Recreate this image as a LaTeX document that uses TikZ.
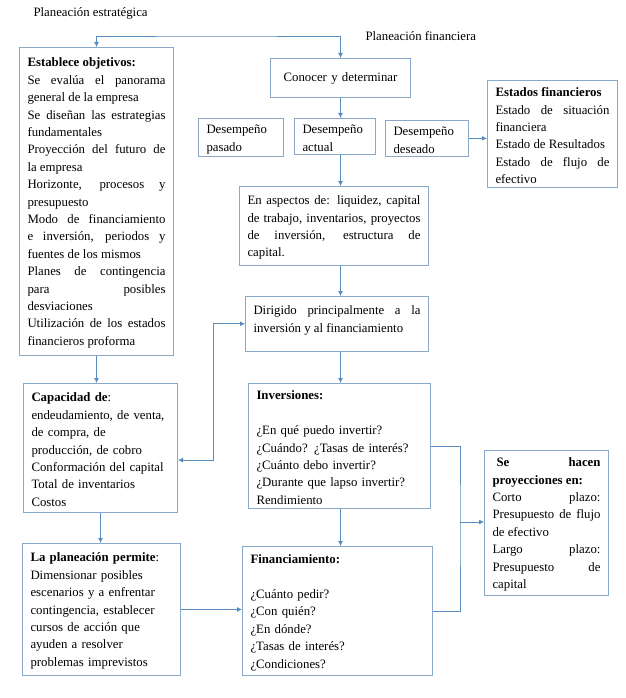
\documentclass[tikz,border=0pt]{standalone}
\usepackage{fontspec}
\setmainfont{Liberation Serif}
\usepackage{xcolor}
\usepackage{tikz}
\usetikzlibrary{arrows.meta,positioning}
\definecolor{bordecaja}{RGB}{138,168,200}
\definecolor{flechaazul}{RGB}{88,140,188}
\setlength{\parindent}{0pt}
\hyphenpenalty=10000

\begin{document}
\begin{tikzpicture}[x=1pt,y=-1pt,
    caja/.style={draw=bordecaja, line width=1pt, anchor=north west, inner xsep=8pt, inner ysep=6pt,
        align=justify, font=\fontsize{12.8}{17.4}\selectfont, execute at begin node=\strut},
    cajaizq/.style={caja, align=left},
    linea/.style={draw=flechaazul, line width=0.8pt},
    flecha/.style={linea, -{Latex[length=5pt,width=5pt]}},
    doble/.style={linea, {Latex[length=5pt,width=5pt]}-{Latex[length=5pt,width=5pt]}},
    titulo/.style={anchor=west, font=\fontsize{12.8}{15}\selectfont}]
    \useasboundingbox (0,0) rectangle (625,698);
    % esquema de planeacion
    \node[titulo] (pestrat) at (30,13) {Planeación estratégica};
    \node[titulo] (pfinan) at (362,36) {Planeación financiera};

    \node[caja, text width=138pt, inner ysep=7.3pt] (objetivos) at (19,47) {\textbf{Establece objetivos:}\par
        Se evalúa el panorama\linebreak general de la empresa\par
        Se diseñan las estrategias\linebreak fundamentales\par
        Proyección del futuro de\linebreak la empresa\par
        Horizonte, procesos y\linebreak presupuesto\par
        Modo de financiamiento\linebreak e inversión, periodos y\linebreak fuentes de los mismos\par
        Planes de contingencia\linebreak para posibles\linebreak desviaciones\par
        Utilización de los estados\linebreak financieros proforma};
    \node[caja, align=center, text width=124pt, minimum height=39pt] (conocer) at (270,58) {Conocer y determinar};
    \node[cajaizq, text width=69pt, inner ysep=3pt] (pasado) at (198,118) {Desempeño\\pasado};
    \node[cajaizq, text width=65pt, inner ysep=3pt] (actual) at (294,118) {Desempeño\\actual};
    \node[cajaizq, text width=67pt, inner ysep=3pt] (deseado) at (385,120) {Desempeño\\deseado};
    \node[caja, text width=114pt, inner ysep=4pt] (estados) at (487,80) {\textbf{Estados financieros}\par
        Estado de situación\linebreak financiera\par
        Estado de Resultados\par
        Estado de flujo de\linebreak efectivo};
    \node[caja, text width=173pt] (aspectos) at (239,186) {En aspectos de: liquidez, capital\linebreak
        de trabajo, inventarios, proyectos\linebreak de inversión, estructura de\linebreak capital.};
    \node[caja, text width=167pt] (dirigido) at (245,296) {Dirigido principalmente a la\linebreak
        inversión y al financiamiento\rule[-13pt]{0pt}{13pt}};
    \node[cajaizq, text width=166pt, inner ysep=4.2pt] (inversiones) at (248,383) {\textbf{Inversiones:}\par\strut\par
        ¿En qué puedo invertir?\par
        ¿Cuándo? ¿Tasas de interés?\par
        ¿Cuánto debo invertir?\par
        ¿Durante que lapso invertir?\par
        Rendimiento};
    \node[cajaizq, text width=174pt, inner ysep=5pt] (financiamiento) at (242,546) {\textbf{Financiamiento:}\par\strut\par
        ¿Cuánto pedir?\par
        ¿Con quién?\par
        ¿En dónde?\par
        ¿Tasas de interés?\par
        ¿Condiciones?};
    \node[caja, text width=108pt, inner ysep=4pt] (proyecciones) at (484,450) {\hspace*{4pt}\textbf{Se hacen}\linebreak
        \textbf{proyecciones en:}\par
        Corto plazo:\linebreak Presupuesto de flujo\linebreak de efectivo\par
        Largo plazo:\linebreak Presupuesto de\linebreak capital};
    \node[cajaizq, text width=138pt, inner ysep=6.2pt] (capacidad) at (23,383) {\textbf{Capacidad de}:\\
        endeudamiento, de venta,\\ de compra, de\\ producción, de cobro\\
        Conformación del capital\\ Total de inventarios\\ Costos};
    \node[cajaizq, text width=142pt, inner ysep=6.3pt] (planeacion) at (22,543) {\textbf{La planeación permite}:\\
        Dimensionar posibles\\ escenarios y a enfrentar\\ contingencia, establecer\\
        cursos de acción que\\ ayuden a resolver\\ problemas imprevistos};

    \coordinate (llave) at (215,36);
    \coordinate (union) at (460,522);
    \draw[doble] (objetivos.north) |- (llave) -| (conocer.north);
    \draw[flecha] (conocer.south) -- (conocer.south |- actual.north);
    \draw[flecha] (deseado.east) -- (deseado.east -| estados.west);
    \draw[flecha] (actual.south -| conocer.south) -- (aspectos.north -| conocer.south);
    \draw[flecha] (aspectos.south -| conocer.south) -- (dirigido.north -| conocer.south);
    \draw[flecha] (dirigido.south -| conocer.south) -- (inversiones.north -| conocer.south);
    \draw[flecha] (inversiones.south -| conocer.south) -- (financiamiento.north -| conocer.south);
    \draw[linea] (inversiones.east) -| (union) |- (financiamiento.east);
    \draw[flecha] (union) -- (union -| proyecciones.west);
    \draw[flecha] (objetivos.south) -- (objetivos.south |- capacidad.north);
    \draw[flecha] (capacidad.south) -- (capacidad.south |- planeacion.north);
    \draw[doble] ([yshift=-12pt]capacidad.east) -- ++(35,0) |- (dirigido.west);
    \draw[flecha] (planeacion.east) -- (planeacion.east -| financiamiento.west);
\end{tikzpicture}
\end{document}
